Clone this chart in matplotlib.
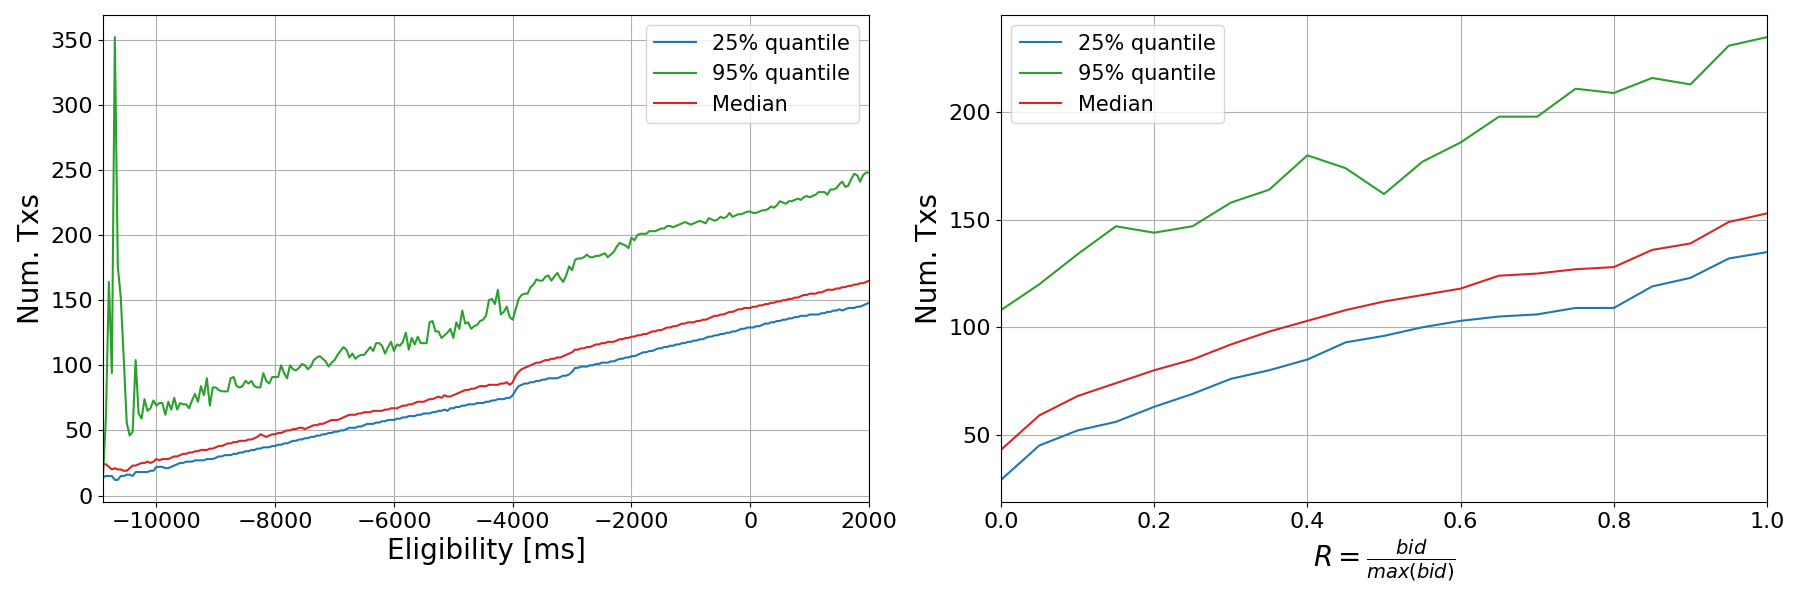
import numpy as np
import matplotlib
matplotlib.use('Agg')
from matplotlib import pyplot as plt

# left panel: eligibility in ms, 50 ms steps from -10900 to 2000
elig = np.arange(-10900, 2001, 50)

q25_elig = [
    14, 15, 15, 15, 12, 12, 15, 15, 16, 16, 15, 18, 18, 18, 18, 18, 19, 19, 22, 22,
    22, 21, 21, 22, 23, 24, 25, 25, 26, 26, 26, 27, 27, 27, 27, 28, 28, 28, 29, 30,
    30, 31, 31, 31, 32, 32, 33, 33, 34, 34, 35, 35, 36, 36, 37, 37, 37, 38, 38, 39,
    39, 40, 40, 41, 42, 42, 43, 43, 44, 44, 45, 45, 46, 46, 47, 47, 48, 48, 49, 49,
    50, 50, 51, 52, 52, 52, 53, 53, 54, 55, 55, 55, 56, 56, 57, 57, 58, 58, 58, 59,
    59, 60, 60, 61, 61, 61, 62, 62, 63, 63, 63, 64, 64, 65, 65, 66, 65, 67, 67, 68,
    68, 69, 69, 70, 70, 70, 71, 71, 71, 72, 72, 73, 73, 74, 74, 74, 75, 75, 77, 81,
    84, 85, 86, 86, 87, 87, 88, 88, 89, 89, 90, 90, 90, 90, 91, 92, 92, 93, 95, 98,
    98, 99, 99, 99, 100, 100, 101, 101, 102, 102, 102, 103, 103, 104, 105, 105, 106, 106, 107, 107,
    108, 109, 110, 110, 111, 111, 112, 113, 113, 114, 114, 115, 115, 116, 116, 117, 117, 118, 118, 119,
    119, 120, 120, 121, 122, 122, 123, 123, 124, 124, 125, 125, 126, 126, 127, 128, 128, 129, 129, 129,
    130, 130, 131, 132, 132, 133, 133, 134, 134, 135, 135, 136, 136, 137, 137, 138, 138, 138, 139, 139,
    139, 139, 140, 140, 141, 141, 142, 142, 143, 142, 143, 144, 144, 144, 145, 145, 146, 147, 148,
]

q95_elig = [
    14, 60, 164, 94, 352, 176, 152, 105, 56, 46, 49, 104, 63, 59, 74, 65, 67, 73, 69, 71,
    71, 62, 72, 66, 75, 66, 71, 70, 70, 67, 73, 78, 72, 84, 77, 90, 69, 83, 83, 81,
    80, 80, 80, 90, 91, 84, 83, 84, 88, 86, 88, 84, 83, 83, 94, 88, 86, 91, 91, 91,
    100, 94, 90, 100, 97, 96, 98, 101, 100, 97, 99, 104, 106, 107, 105, 103, 99, 102, 104, 108,
    111, 114, 112, 106, 109, 105, 107, 108, 108, 111, 114, 111, 117, 117, 115, 109, 114, 118, 111, 116,
    115, 118, 125, 112, 121, 116, 122, 117, 117, 117, 133, 134, 126, 126, 121, 123, 125, 128, 121, 133,
    128, 142, 132, 133, 128, 130, 131, 134, 135, 138, 150, 151, 147, 158, 139, 141, 145, 137, 135, 143,
    151, 154, 155, 155, 160, 162, 166, 165, 165, 168, 169, 165, 168, 171, 167, 164, 169, 176, 173, 181,
    182, 182, 183, 185, 183, 183, 184, 184, 185, 186, 183, 185, 187, 191, 194, 193, 192, 190, 198, 196,
    200, 201, 201, 201, 203, 203, 203, 204, 205, 205, 207, 207, 206, 207, 208, 209, 210, 209, 208, 209,
    210, 211, 210, 209, 213, 212, 211, 212, 214, 213, 214, 217, 214, 215, 216, 216, 217, 218, 218, 217,
    217, 218, 219, 219, 220, 222, 221, 223, 226, 225, 224, 226, 226, 227, 228, 227, 229, 230, 229, 230,
    231, 233, 233, 233, 231, 235, 235, 236, 239, 241, 237, 238, 243, 247, 246, 241, 246, 248, 248,
]

med_elig = [
    24, 24, 22, 20, 21, 20, 20, 19, 19, 21, 23, 23, 24, 25, 25, 26, 25, 26, 28, 27,
    28, 28, 28, 29, 30, 30, 31, 32, 32, 33, 33, 34, 34, 35, 35, 35, 36, 36, 37, 38,
    38, 39, 40, 40, 41, 41, 42, 42, 42, 43, 43, 44, 45, 47, 46, 45, 46, 47, 47, 48,
    48, 49, 50, 50, 51, 51, 52, 52, 51, 52, 53, 54, 54, 55, 55, 56, 57, 58, 58, 58,
    59, 60, 61, 62, 62, 62, 63, 63, 64, 64, 64, 65, 65, 65, 65, 66, 66, 67, 67, 67,
    68, 69, 69, 70, 70, 71, 72, 72, 72, 73, 74, 74, 75, 76, 75, 77, 76, 76, 77, 78,
    79, 80, 81, 81, 82, 82, 83, 84, 84, 84, 85, 85, 85, 85, 86, 86, 87, 85, 87, 92,
    95, 97, 98, 99, 100, 101, 102, 102, 103, 104, 104, 105, 105, 106, 106, 107, 108, 109, 110, 112,
    112, 113, 113, 114, 114, 115, 116, 116, 117, 117, 118, 118, 118, 119, 120, 120, 121, 121, 122, 122,
    123, 123, 124, 124, 125, 126, 126, 127, 127, 128, 129, 129, 130, 130, 131, 132, 132, 133, 133, 133,
    134, 134, 135, 135, 136, 137, 138, 138, 139, 139, 140, 141, 141, 142, 143, 143, 144, 144, 144, 145,
    145, 146, 146, 147, 147, 148, 148, 149, 149, 150, 150, 151, 151, 152, 152, 153, 154, 154, 155, 155,
    155, 156, 156, 157, 158, 158, 158, 159, 159, 160, 160, 161, 161, 162, 162, 163, 163, 164, 165,
]

# right panel: R = bid / max(bid)
ratio = np.round(np.arange(0, 1.0001, 0.05), 2)
q25_ratio = [29, 45, 52, 56, 63, 69, 76, 80, 85, 93, 96, 100, 103, 105, 106, 109, 109, 119, 123, 132, 135]
q95_ratio = [108, 120, 134, 147, 144, 147, 158, 164, 180, 174, 162, 177, 186, 198, 198, 211, 209, 216, 213, 231, 235]
med_ratio = [43, 59, 68, 74, 80, 85, 92, 98, 103, 108, 112, 115, 118, 124, 125, 127, 128, 136, 139, 149, 153]

fig = plt.figure(figsize=(18, 6), dpi=100)
ax1 = fig.add_axes([0.0572, 0.1633, 0.4256, 0.8117])
ax2 = fig.add_axes([0.5561, 0.1633, 0.4256, 0.8117])

# LEFT
ax1.plot(elig, q25_elig, color='tab:blue', label='25% quantile')
ax1.plot(elig, q95_elig, color='tab:green', label='95% quantile')
ax1.plot(elig, med_elig, color='tab:red', label='Median')
ax1.set_xlim(elig[0], elig[-1])
ax1.set_xlabel('Eligibility [ms]', fontsize=20)
ax1.set_ylabel('Num. Txs', fontsize=20)
ax1.grid(True)
ax1.legend(loc='upper right', fontsize=15)
ax1.tick_params(labelsize=16)

# RIGHT
ax2.plot(ratio, q25_ratio, color='tab:blue', label='25% quantile')
ax2.plot(ratio, q95_ratio, color='tab:green', label='95% quantile')
ax2.plot(ratio, med_ratio, color='tab:red', label='Median')
ax2.set_xlim(0, 1)
ax2.set_xlabel(r'$R = \frac{bid}{max(bid)}$', fontsize=20)
ax2.set_ylabel('Num. Txs', fontsize=20)
ax2.grid(True)
ax2.legend(loc='upper left', fontsize=15)
ax2.tick_params(labelsize=16)

fig.savefig('out.png', dpi=100)
